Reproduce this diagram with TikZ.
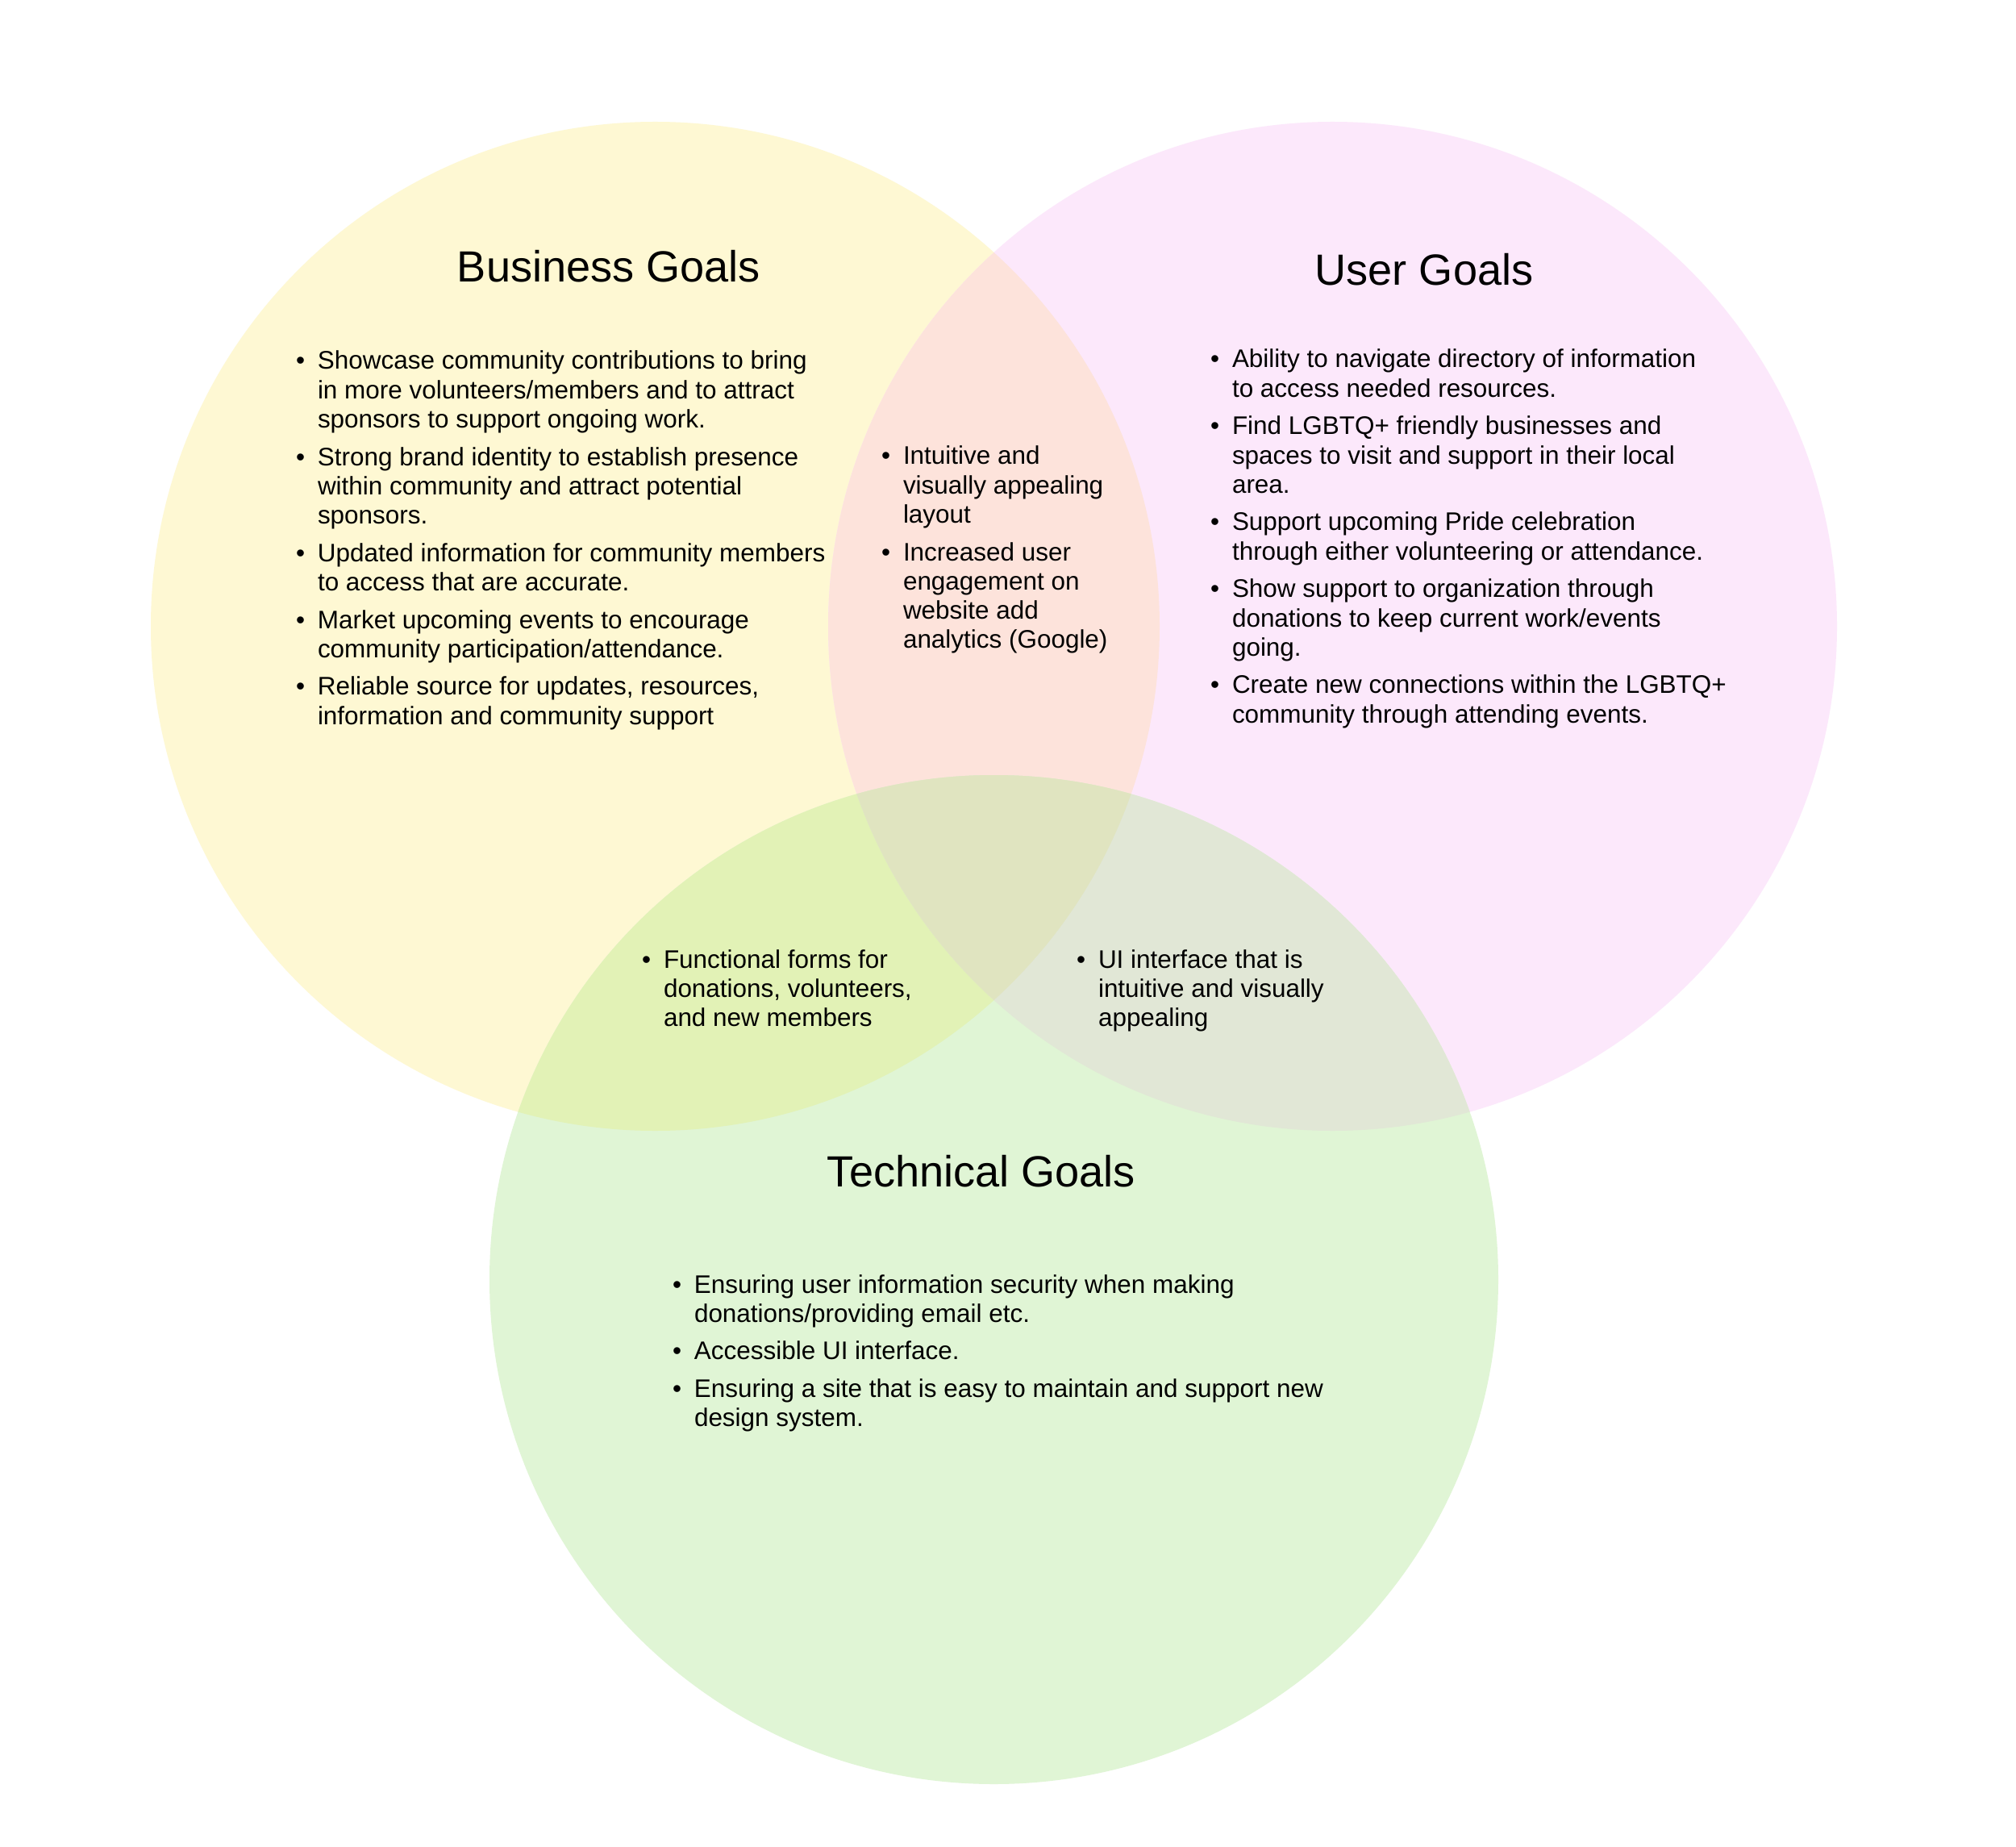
\documentclass[tikz,border=0pt]{standalone}
\usepackage{fontspec}
\setmainfont{Liberation Sans}
\definecolor{cY}{HTML}{FEF8D3}
\definecolor{cP}{HTML}{FCE8FB}
\definecolor{cG}{HTML}{E0F5D5}
\definecolor{cYP}{HTML}{FDE3DB}
\definecolor{cYG}{HTML}{E2F2B6}
\definecolor{cPG}{HTML}{E1E7D6}
\definecolor{cYPG}{HTML}{E0E4C0}
\newcommand{\bodyfont}{\fontsize{8.95}{10.3}\selectfont}
\newcommand{\gitem}[1]{\hangindent=0.27cm\hangafter=1\noindent\makebox[0.27cm][l]{\textbullet}#1\par}
\newcommand{\glist}[2]{\parbox[t]{#1}{\setlength{\parskip}{0.105cm}\setlength{\parindent}{0pt}#2}}
\tikzset{
  listnode/.style={anchor=base west, inner sep=0pt, outer sep=0pt, font=\bodyfont, text=black},
  titlenode/.style={anchor=base, inner sep=0pt, outer sep=0pt, font=\fontsize{15.4}{18}\selectfont, text=black},
}
\begin{document}
\begin{tikzpicture}
\fill[white] (0,0) rectangle (25,-22.9);
\useasboundingbox (0,0) rectangle (25,-22.9);
\coordinate (cy) at (8.125,-7.765);
\coordinate (cp) at (16.525,-7.765);
\coordinate (cg) at (12.325,-15.865);
\def\R{6.255}
\fill[cY] (cy) circle (\R);
\fill[cP] (cp) circle (\R);
\fill[cG] (cg) circle (\R);
\begin{scope}
  \clip (cy) circle (\R);
  \fill[cYP] (cp) circle (\R);
  \fill[cYG] (cg) circle (\R);
\end{scope}
\begin{scope}
  \clip (cp) circle (\R);
  \fill[cPG] (cg) circle (\R);
\end{scope}
\begin{scope}
  \clip (cy) circle (\R);
  \clip (cp) circle (\R);
  \fill[cYPG] (cg) circle (\R);
\end{scope}

\node[titlenode] (tb) at (7.55,-3.50) {Business Goals};
\node[titlenode] (tu) at (17.66,-3.54) {User Goals};
\node[titlenode] (tt) at (12.17,-14.71) {Technical Goals};

\node[listnode] (lb) at (3.67,-4.58) {\glist{9cm}{%
\gitem{Showcase community contributions to bring\\in more volunteers/members and to attract\\sponsors to support ongoing work.}
\gitem{Strong brand identity to establish presence\\within community and attract potential\\sponsors.}
\gitem{Updated information for community members\\to access that are accurate.}
\gitem{Market upcoming events to encourage\\community participation/attendance.}
\gitem{Reliable source for updates, resources,\\information and community support}}};

\node[listnode] (lu) at (15.01,-4.56) {\glist{9cm}{%
\gitem{Ability to navigate directory of information\\to access needed resources.}
\gitem{Find LGBTQ+ friendly businesses and\\spaces to visit and support in their local\\area.}
\gitem{Support upcoming Pride celebration\\through either volunteering or attendance.}
\gitem{Show support to organization through\\donations to keep current work/events\\going.}
\gitem{Create new connections within the LGBTQ+\\community through attending events.}}};

\node[listnode] (lc) at (10.93,-5.76) {\glist{9cm}{%
\gitem{Intuitive and\\visually appealing\\layout}
\gitem{Increased user\\engagement on\\website add\\analytics (Google)}}};

\node[listnode] (lyg) at (7.96,-12.00) {\glist{9cm}{%
\gitem{Functional forms for\\donations, volunteers,\\and new members}}};

\node[listnode] (lpg) at (13.35,-12.00) {\glist{9cm}{%
\gitem{UI interface that is\\intuitive and visually\\appealing}}};

\node[listnode] (lt) at (8.34,-16.03) {\glist{12cm}{%
\gitem{Ensuring user information security when making\\donations/providing email etc.}
\gitem{Accessible UI interface.}
\gitem{Ensuring a site that is easy to maintain and support new\\design system.}}};
\end{tikzpicture}
\end{document}
